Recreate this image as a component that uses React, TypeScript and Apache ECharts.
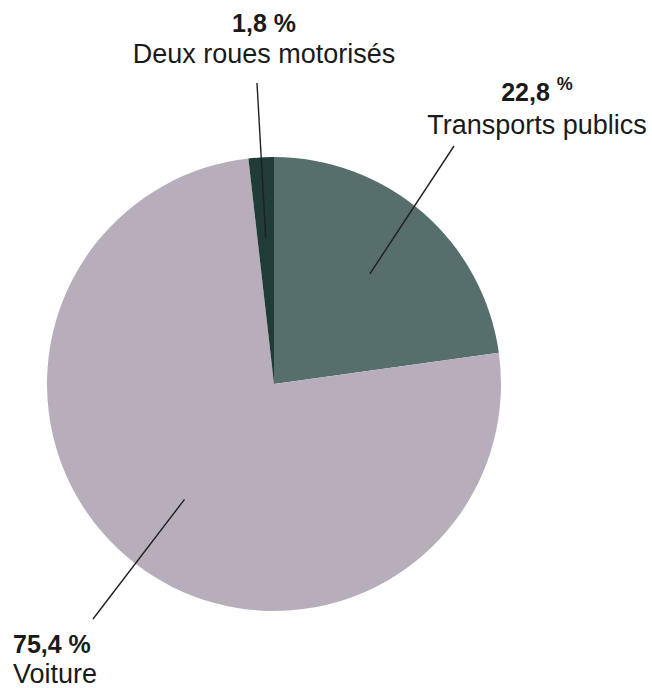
import React, { useEffect, useRef } from "react";
import * as echarts from "echarts";

const categories = ["Transports publics", "Voiture", "Deux roues motorisés"];
const values = [22.8, 75.4, 1.8];
const colors = ["#566f6c", "#b8aebb", "#1f3c37"];

// label anchor placement (pixels) and leader line end points
const labelPos = [
  { x: 537, y: 75, align: "center", l1: 34, n: 31, small: true, end: [454, 146] },
  { x: 13, y: 627, align: "left", l1: 34, n: 25, small: false, end: [93, 619] },
  { x: 264, y: 7, align: "center", l1: 31, n: 31, small: false, end: [257, 83] },
];

const CX = 274;
const CY = 384;
const R = 227;
const INNER = 146;

const fmt = (v: number) => v.toFixed(1).replace(".", ",");

export default function App() {
  const ref = useRef<HTMLDivElement>(null);
  useEffect(() => {
    document.body.style.margin = "0";
    const chart = echarts.init(ref.current!, null, { renderer: "svg" });
    const total = values.reduce((a, b) => a + b, 0);
    const mids: number[] = [];
    let acc = 0;
    values.forEach((v) => {
      const a0 = 90 - (acc / total) * 360;
      acc += v;
      const a1 = 90 - (acc / total) * 360;
      mids.push(((a0 + a1) / 2) * (Math.PI / 180));
    });
    const font = "Liberation Sans, Arial, sans-serif";
    const leaders = values.map((_, i) => ({
      type: "line",
      z: 100,
      silent: true,
      shape: {
        x1: CX + INNER * Math.cos(mids[i]),
        y1: CY - INNER * Math.sin(mids[i]),
        x2: labelPos[i].end[0],
        y2: labelPos[i].end[1],
      },
      style: { stroke: "#231f20", lineWidth: 1.4 },
    }));
    chart.setOption({
      animation: false,
      backgroundColor: "#ffffff",
      graphic: { elements: leaders },
      series: [
        {
          type: "pie",
          silent: true,
          center: [CX, CY],
          radius: [0, R],
          startAngle: 90,
          clockwise: true,
          avoidLabelOverlap: false,
          itemStyle: { borderWidth: 0 },
          label: {
            show: true,
            position: "outside",
            fontFamily: font,
            color: "#1a1a1a",
          },
          labelLine: { show: false },
          labelLayout: (p: any) => {
            const lp = labelPos[p.dataIndex];
            return { x: lp.x, y: lp.y, align: lp.align, verticalAlign: "top" };
          },
          data: categories.map((name, i) => ({
            name,
            value: values[i],
            itemStyle: { color: colors[i] },
            label: {
              align: labelPos[i].align,
              formatter: labelPos[i].small
                ? `{b|${fmt(values[i])} }{s|%}\n{n|${name}}`
                : `{b|${fmt(values[i])} %}\n{n|${name}}`,
              rich: {
                b: {
                  fontSize: 25,
                  fontWeight: "bold",
                  lineHeight: labelPos[i].l1,
                  color: "#1a1a1a",
                  fontFamily: font,
                  align: labelPos[i].align,
                },
                s: {
                  fontSize: 18,
                  fontWeight: "bold",
                  lineHeight: labelPos[i].l1,
                  verticalAlign: "top",
                  color: "#1a1a1a",
                  fontFamily: font,
                },
                n: {
                  fontSize: 27,
                  lineHeight: labelPos[i].n,
                  color: "#1a1a1a",
                  fontFamily: font,
                  align: labelPos[i].align,
                },
              },
            },
          })),
        },
      ],
    });
    return () => chart.dispose();
  }, []);
  return <div ref={ref} style={{ width: 652, height: 688 }} />;
}
